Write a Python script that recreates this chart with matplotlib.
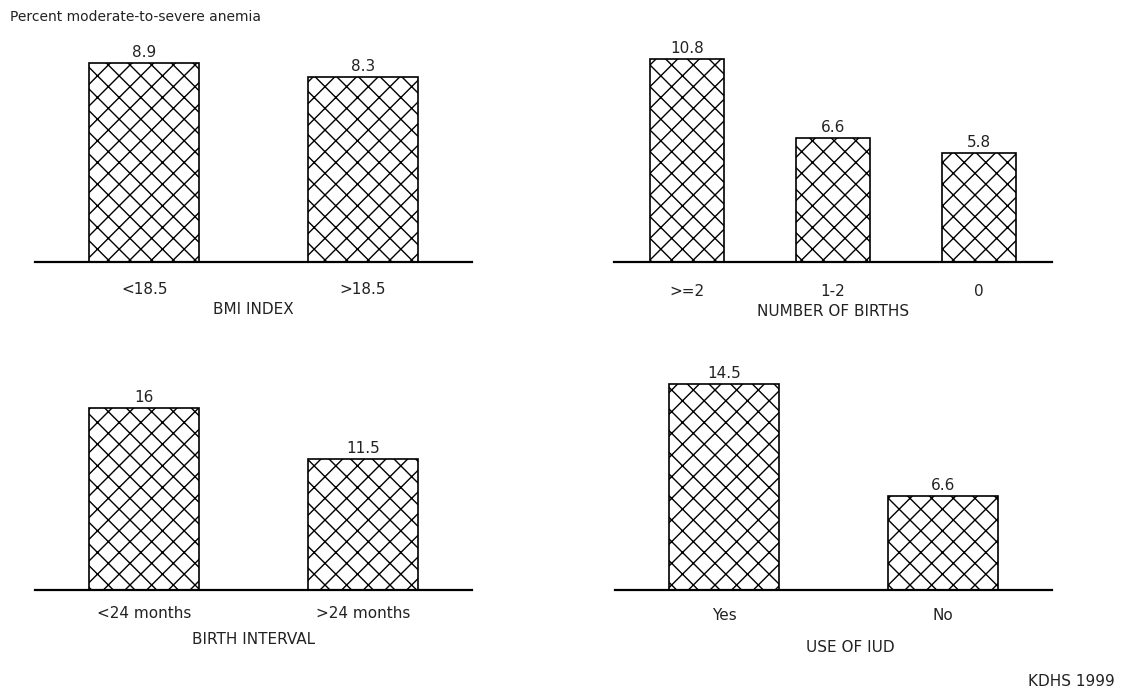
import numpy as np
import matplotlib.pyplot as plt

plt.rcParams['font.family'] = ['DejaVu Sans']

# data
bmi_labels = ['<18.5', '>18.5']
bmi_values = [8.9, 8.3]
births_labels = ['>=2', '1-2', '0']
births_values = [10.8, 6.6, 5.8]
interval_labels = ['<24 months', '>24 months']
interval_values = [16, 11.5]
iud_labels = ['Yes', 'No']
iud_values = [14.5, 6.6]

titles = ['BMI INDEX', 'NUMBER OF BIRTHS', 'BIRTH INTERVAL', 'USE OF IUD']

# higher dpi so the crosshatch comes out finer; sizes in points scaled back
W, H = 1122, 697
DPI = 130
S = 100 / DPI
plt.rcParams['hatch.linewidth'] = 1.0 * S
plt.rcParams['hatch.color'] = '#333333'

fig = plt.figure(figsize=(W / DPI, H / DPI), dpi=DPI)
fig.patch.set_facecolor('white')
FS = 11 * S
TXT = '#222222'


def px_axes(left, right, base, top):
    # pixel box -> figure fraction
    return fig.add_axes([left / W, (H - base) / H, (right - left) / W, (base - top) / H])


panels = [
    # axes box (px), labels, values, ymax, label offset, title offset, title x shift
    ((35, 472, 262, 50), bmi_labels, bmi_values, 9.49, 27, 47, 0),
    ((614, 1052, 262, 50), births_labels, births_values, 11.26, 29, 50, 0),
    ((35, 472, 590, 380), interval_labels, interval_values, 18.5, 23, 50, 0),
    ((615, 1052, 590, 380), iud_labels, iud_values, 14.79, 25, 57, 17),
]

for (box, labels, values, ymax, loff, toff, tshift), title in zip(panels, titles):
    ax = px_axes(*box)
    x = np.arange(len(values))
    ax.bar(x, values, width=0.505, color='white', edgecolor='black',
           linewidth=1.2 * S, hatch='xx')
    ax.set_xlim(-0.5, len(values) - 0.5)
    ax.set_ylim(0, ymax)
    for s in ['top', 'right', 'left']:
        ax.spines[s].set_visible(False)
    ax.spines['bottom'].set_linewidth(1.6 * S)
    ax.set_yticks([])
    ax.set_xticks([])
    ax.patch.set_alpha(0)
    for xi, v in zip(x, values):
        ax.annotate(f'{v:g}', xy=(xi, v), xytext=(0, 3), textcoords='offset pixels',
                    ha='center', va='bottom', fontsize=FS, color=TXT)
    for xi, lab in zip(x, labels):
        ax.annotate(lab, xy=(xi, 0), xycoords=('data', 'axes fraction'),
                    xytext=(0, -loff), textcoords='offset pixels',
                    ha='center', va='center', fontsize=FS, color=TXT)
    ax.annotate(title, xy=(0.5, 0), xycoords='axes fraction',
                xytext=(tshift, -toff), textcoords='offset pixels',
                ha='center', va='center', fontsize=FS, color=TXT)

fig.text(10 / W, 1 - 17 / H, 'Percent moderate-to-severe anemia', ha='left', va='center',
         fontsize=10 * S, color=TXT)
fig.text(1115 / W, 1 - 682 / H, 'KDHS 1999', ha='right', va='center',
         fontsize=FS, color=TXT)

fig.savefig('out.png', dpi=DPI, facecolor='white')
